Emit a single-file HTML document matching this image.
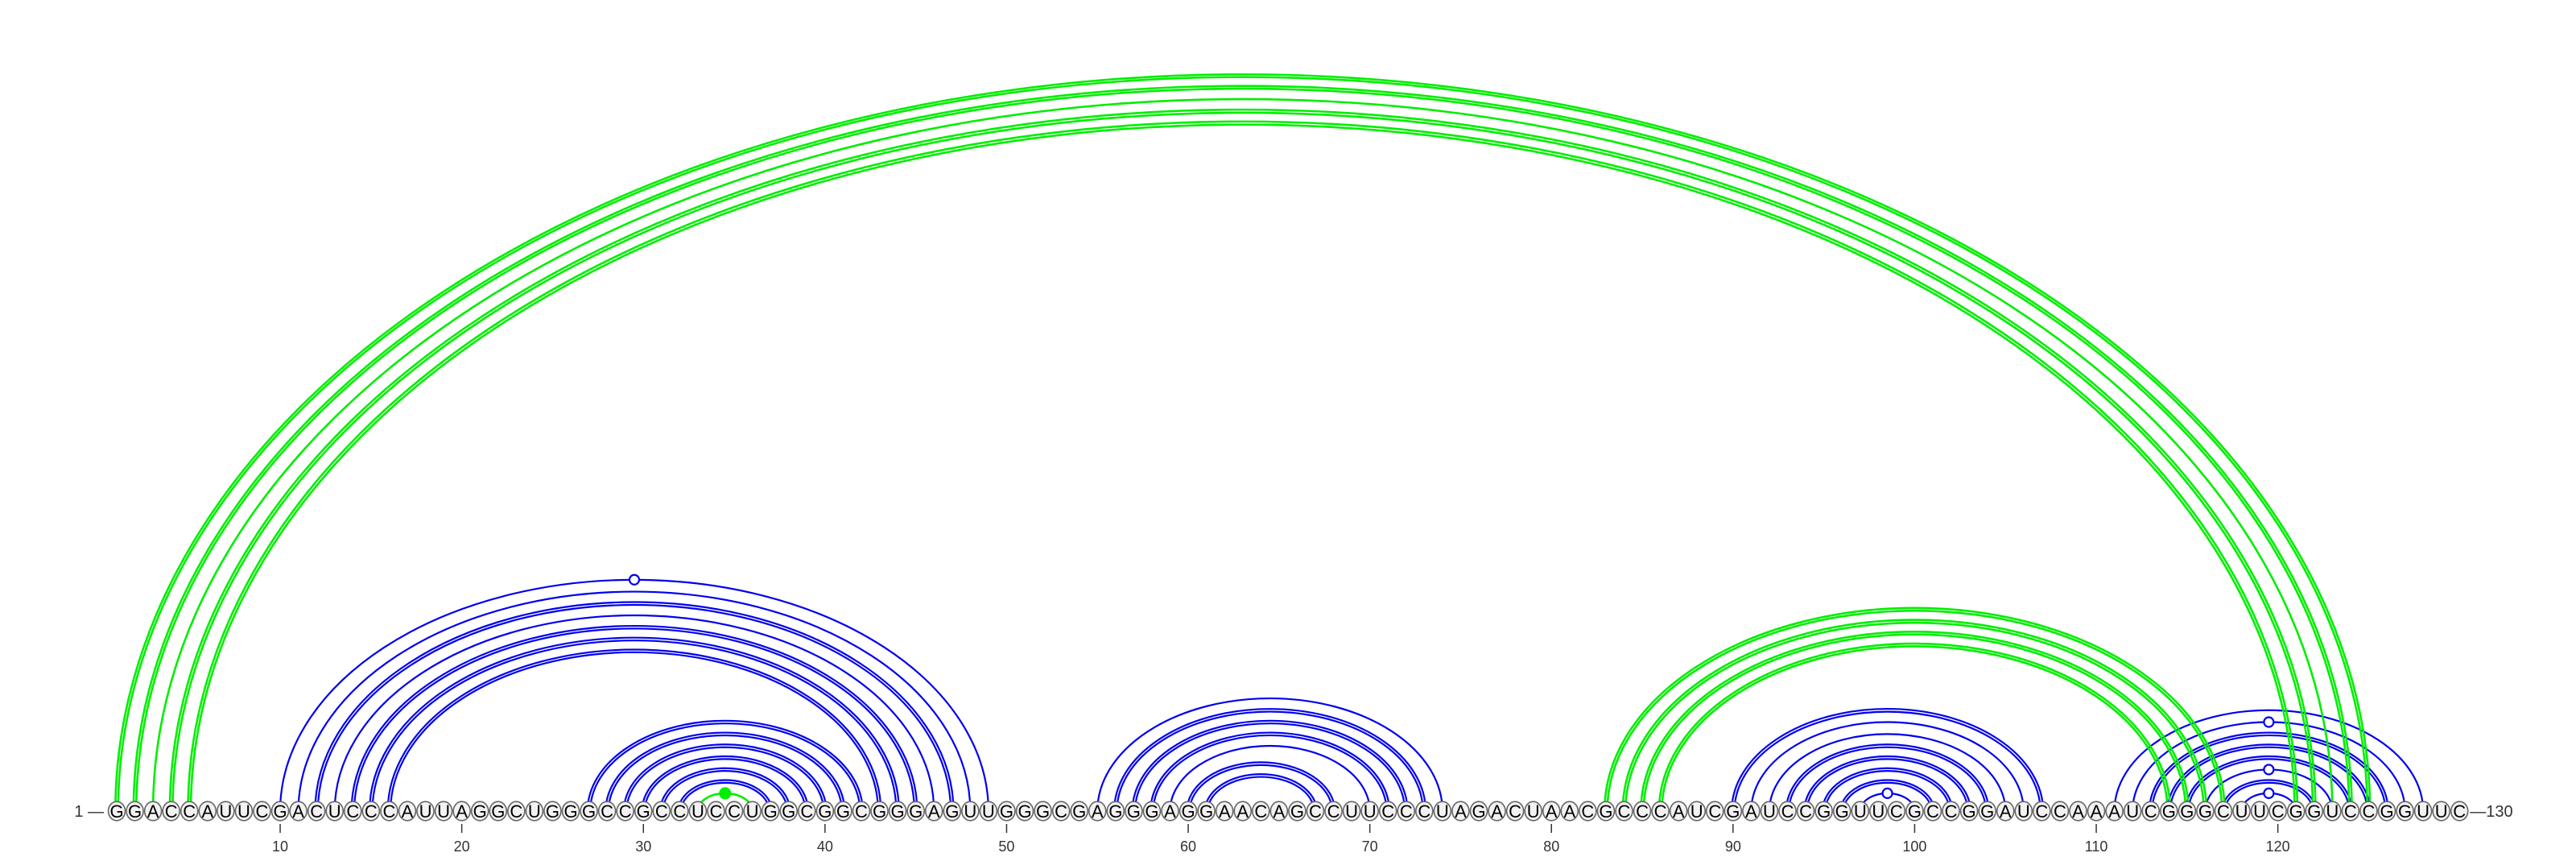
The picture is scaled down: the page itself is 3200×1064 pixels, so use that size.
<!DOCTYPE html>
<html><head><meta charset="utf-8"><title>RNA arc diagram</title>
<style>html,body{margin:0;padding:0;background:#fff;}svg{display:block;}</style></head>
<body>
<svg id="chart" width="3200" height="1064" viewBox="0 0 3200 1064" xmlns="http://www.w3.org/2000/svg" font-family="Liberation Sans, sans-serif">
<g id="arcs"></g>
<g id="dots"></g>
<g id="bases"></g>
<g id="axis"></g>
</svg>
<script>
const sequence = "GGACCAUUCGACUCCCAUUAGGCUGGGCCGCCUCCUGGCGGCGGGAGUUGGGCGAGGGAGGAACAGCCUUCCCUAGACUAACGCCCAUCGAUCCGGUUCGCCGGAUCCAAAUCGGGCUUCGGUCCGGUUC";
const blueI = [10,11,12,13,14,15,16, 27,28,29,30,31,32, 55,56,57,58,59,60,61, 90,91,92,93,94,95,96,97, 111,112,113,114,115,116,117,118];
const blueJ = [49,48,47,46,45,44,43, 42,41,40,39,38,37, 74,73,72,71,70,68,67, 107,106,105,104,103,102,101,100, 128,127,126,125,124,123,122,121];
const blueDouble = [0,0,1,0,1,1,1, 1,1,1,1,1,1, 0,1,1,1,0,1,1, 1,0,0,1,1,1,1,0, 0,0,1,1,1,0,1,0];
const greenI = [1,2,3,4,5, 83,84,85,86, 33];
const greenJ = [125,124,123,122,121, 117,116,115,114, 36];
const greenDouble = [1,1,0,1,1, 1,1,1,1, 0];
const openDotI = [10,97,112,116,118];
const openDotJ = [49,100,127,123,121];
const filledDotI = [33];
const filledDotJ = [36];
const tickValues = [10,20,30,40,50,60,70,80,90,100,110,120];

const NS = "http://www.w3.org/2000/svg";
const x0 = 145, dx = 22.56, baseY = 1007, K = 0.653;
function xPos(n){ return x0 + (n-1)*dx; }
function mk(tag, attrs){ const e = document.createElementNS(NS, tag); for (const k in attrs) e.setAttribute(k, attrs[k]); return e; }

const arcs = document.getElementById('arcs');
function arcPath(i, j, off){
  const x1 = xPos(i) - off, x2 = xPos(j) + off;
  const rx = (x2 - x1)/2, ry = K*(xPos(j)-xPos(i))/2 + off;
  return `M${x1},${baseY} A${rx},${ry} 0 0 1 ${x2},${baseY}`;
}
function drawArcs(I, J, D, color, name, w){
  for (let k=0;k<I.length;k++){
    const offs = D[k] ? [-1.7, 1.7] : [0];
    for (const o of offs){
      const p = mk('path', {d: arcPath(I[k], J[k], o), fill:'none', stroke:color, 'stroke-width':w});
      
      
      arcs.appendChild(p);
    }
  }
}
drawArcs(blueI, blueJ, blueDouble, '#0000ee', 'blue-arc', 2.2);
drawArcs(greenI, greenJ, greenDouble, '#00ee00', 'green-arc', 2.6);

const dots = document.getElementById('dots');
for (let k=0;k<openDotI.length;k++){
  const cx = (xPos(openDotI[k])+xPos(openDotJ[k]))/2;
  const cy = baseY - K*(xPos(openDotJ[k])-xPos(openDotI[k]))/2;
  const c = mk('circle', {cx:cx, cy:cy, r:6, fill:'#fff', stroke:'#0000ee', 'stroke-width':2.2});
  
  
  dots.appendChild(c);
}
for (let k=0;k<filledDotI.length;k++){
  const cx = (xPos(filledDotI[k])+xPos(filledDotJ[k]))/2;
  const cy = baseY - K*(xPos(filledDotJ[k])-xPos(filledDotI[k]))/2;
  const c = mk('circle', {cx:cx, cy:cy, r:7, fill:'#00ee00', stroke:'#00ee00', 'stroke-width':1});
  
  
  dots.appendChild(c);
}

const bases = document.getElementById('bases');
for (let n=1;n<=sequence.length;n++){
  const g = mk('g', {});
  
  
  g.appendChild(mk('ellipse', {cx:xPos(n), cy:baseY, rx:10.5, ry:11.8, fill:'#f2f2f2', stroke:'#666', 'stroke-width':1.6}));
  const t = mk('text', {x:xPos(n), y:baseY+8, 'font-size':22, 'text-anchor':'middle', fill:'#000'});
  t.textContent = sequence[n-1];
  g.appendChild(t);
  bases.appendChild(g);
}

const axis = document.getElementById('axis');
for (const v of tickValues){
  const l = mk('line', {x1:xPos(v), x2:xPos(v), y1:1023, y2:1034, stroke:'#333', 'stroke-width':1.5});
  
  
  axis.appendChild(l);
  const t = mk('text', {x:xPos(v), y:1057, 'font-size':18, 'text-anchor':'middle', fill:'#333'});
  
  
  t.textContent = v;
  axis.appendChild(t);
}
const s = mk('text', {x:xPos(1)-16, y:baseY+7, 'font-size':20, 'text-anchor':'end', fill:'#333'});


s.textContent = '1 \u2014';
axis.appendChild(s);
const e = mk('text', {x:xPos(sequence.length)+13, y:baseY+7, 'font-size':20, 'text-anchor':'start', fill:'#333'});


e.textContent = '\u2014130';
axis.appendChild(e);
</script>
</body></html>
